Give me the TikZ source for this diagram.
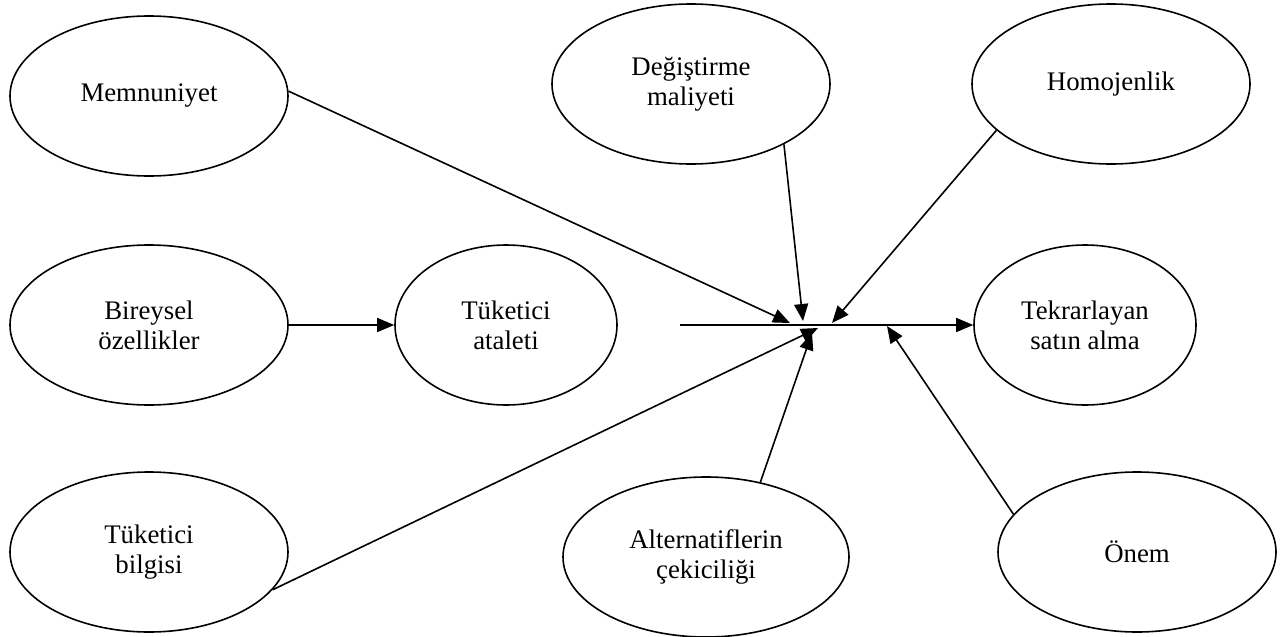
\documentclass[tikz,border=0pt]{standalone}
\usepackage{fontspec}
\setmainfont{Liberation Serif}
\usetikzlibrary{arrows.meta,shapes.geometric}
\tikzset{
  factor/.style={draw,ellipse,line width=0.8pt,minimum width=139pt,minimum height=80pt,
    inner sep=0pt,align=center,font=\fontsize{13.4}{15}\selectfont},
  narrow/.style={factor,minimum width=111pt},
  link/.style={line width=0.8pt,-{Triangle[length=8.5pt,width=7pt]}}
}
\begin{document}
\begin{tikzpicture}[x=0.5pt,y=-0.5pt]
      \useasboundingbox (0,0) rectangle (1285,637);
      \draw
        (149,96) node[factor] (mem){Memnuniyet}
        (149,325) node[factor] (bir){Bireysel\\özellikler}
        (149,552) node[factor] (bil){Tüketici\\bilgisi}
        (506,325) node[narrow] (ata){Tüketici\\ataleti}
        (691,84) node[factor] (deg){Değiştirme\\maliyeti}
        (1111,84) node[factor] (hom){Homojenlik}
        (1085,325) node[narrow] (tek){Tekrarlayan\\satın alma}
        (706,557) node[factor,minimum width=143pt] (alt){Alternatiflerin\\çekiciliği}
        (1137,552) node[factor] (onem){Önem};
      % ends of the arrows on the main line
      \coordinate (hmem) at (790,323);
      \coordinate (hdeg) at (803,321);
      \coordinate (hhom) at (832,323);
      \coordinate (hbil) at (818,328);
      \coordinate (halt) at (812,333);
      \coordinate (honem) at (887,326);
      \begin{scope}[link]
        \draw (bir) to (ata);
        \draw ([xshift=31pt]ata.east) to (tek.west);
        \draw (mem.2) to (hmem);
        \draw (deg.-33) to (hdeg);
        \draw (hom.-158) to (hhom);
        \draw (bil.-17) to (hbil);
        \draw (alt.54) to (halt);
        \draw (onem.163) to (honem);
      \end{scope}
    \end{tikzpicture}
\end{document}
